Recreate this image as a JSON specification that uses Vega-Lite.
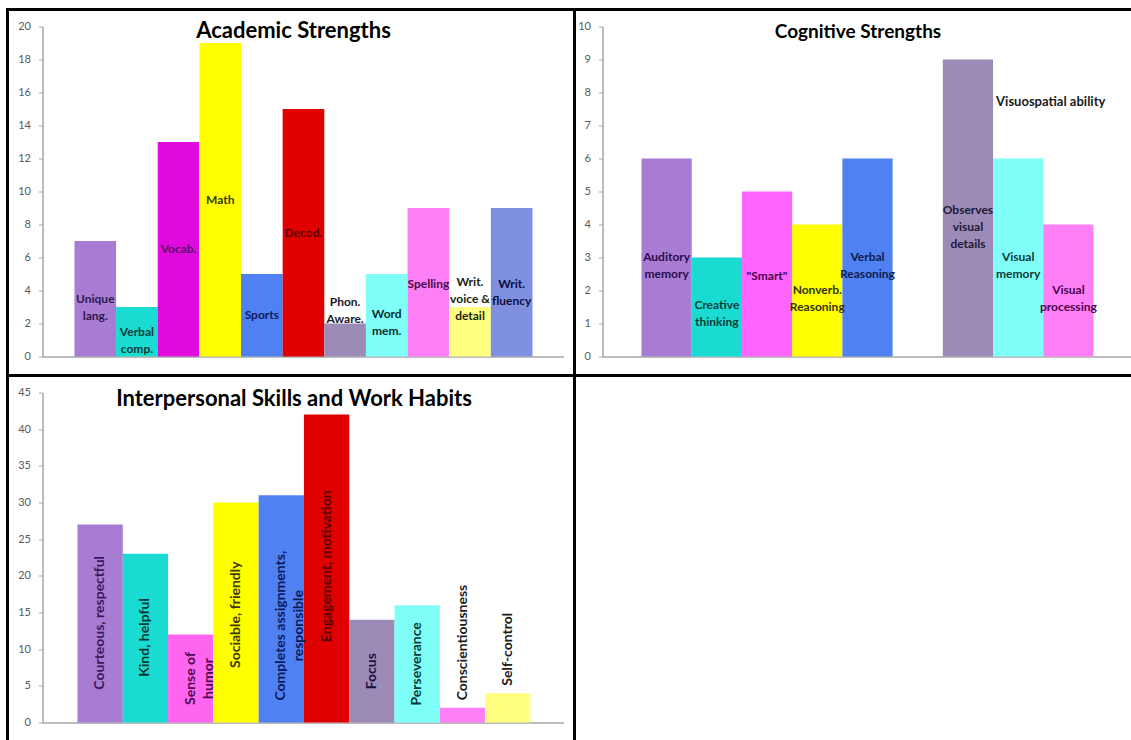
{
  "$schema": "https://vega.github.io/schema/vega-lite/v6.json",
  "background": "white",
  "padding": {"left": 5.5, "top": 7.5, "right": 0, "bottom": 0},
  "columns": 2,
  "spacing": 0,
  "bounds": "flush",
  "resolve": {"scale": {"color": "independent", "fill": "independent", "x": "independent", "y": "independent"}},
  "datasets": {
    "academic": [
      {"skill": "Unique lang.", "count": 7, "label": "Unique|lang.", "at": 3.5},
      {"skill": "Verbal comp.", "count": 3, "label": "Verbal|comp.", "at": 1.5},
      {"skill": "Vocab.", "count": 13, "label": "Vocab.", "at": 6.5},
      {"skill": "Math", "count": 19, "label": "Math", "at": 9.5},
      {"skill": "Sports", "count": 5, "label": "Sports", "at": 2.5},
      {"skill": "Decod.", "count": 15, "label": "Decod.", "at": 7.5},
      {"skill": "Phon. Aware.", "count": 2, "label": "Phon.|Aware.", "at": 3.3},
      {"skill": "Word mem.", "count": 5, "label": "Word|mem.", "at": 2.6},
      {"skill": "Spelling", "count": 9, "label": "Spelling", "at": 4.4},
      {"skill": "Writ. voice & detail", "count": 3, "label": "Writ.|voice &|detail", "at": 4.5},
      {"skill": "Writ. fluency", "count": 9, "label": "Writ.|fluency", "at": 4.4}
    ],
    "cognitive": [
      {"skill": "Auditory memory", "count": 6, "label": "Auditory|memory", "at": 3.0},
      {"skill": "Creative thinking", "count": 3, "label": "Creative|thinking", "at": 1.55},
      {"skill": "\"Smart\"", "count": 5, "label": "\"Smart\"", "at": 2.45},
      {"skill": "Nonverb. Reasoning", "count": 4, "label": "Nonverb.|Reasoning", "at": 2.0},
      {"skill": "Verbal Reasoning", "count": 6, "label": "Verbal|Reasoning", "at": 3.0},
      {"skill": "Observes visual details", "count": 9, "label": "Observes|visual|details", "at": 4.45},
      {"skill": "Visual memory", "count": 6, "label": "Visual|memory", "at": 3.0},
      {"skill": "Visual processing", "count": 4, "label": "Visual|processing", "at": 2.0}
    ],
    "interpersonal": [
      {"skill": "Courteous, respectful", "count": 27, "label": "Courteous, respectful", "at": 13.6},
      {"skill": "Kind, helpful", "count": 23, "label": "Kind, helpful", "at": 11.6},
      {"skill": "Sense of humor", "count": 12, "label": "Sense of|humor", "at": 6.0},
      {"skill": "Sociable, friendly", "count": 30, "label": "Sociable, friendly", "at": 14.7},
      {"skill": "Completes assignments, responsible", "count": 31, "label": "Completes assignments,|responsible", "at": 13.2},
      {"skill": "Engagement, motivation", "count": 42, "label": "Engagement, motivation", "at": 21.3},
      {"skill": "Focus", "count": 14, "label": "Focus", "at": 7.0},
      {"skill": "Perseverance", "count": 16, "label": "Perseverance", "at": 8.0},
      {"skill": "Conscientiousness", "count": 2, "label": "Conscientiousness", "at": 10.9},
      {"skill": "Self-control", "count": 4, "label": "Self-control", "at": 10.0}
    ]
  },
  "concat": [
    {
      "width": 567,
      "height": 366,
      "title": {"text": "Academic Strengths", "offset": -33, "dx": 2.5, "fontSize": 22},
      "data": {"name": "academic"},
      "encoding": {
        "x": {
          "field": "skill", "type": "nominal", "sort": null,
          "scale": {
            "domain": ["_pad", "Unique lang.", "Verbal comp.", "Vocab.", "Math", "Sports", "Decod.", "Phon. Aware.", "Word mem.", "Spelling", "Writ. voice & detail", "Writ. fluency"],
            "paddingInner": 0, "paddingOuter": 0.809, "align": 0.376
          },
          "axis": {"labels": false, "ticks": false, "title": null, "offset": -19, "domainDash": [0, 35, 521, 100]}
        }
      },
      "layer": [
        {
          "mark": {"type": "bar"},
          "encoding": {
            "y": {
              "field": "count", "type": "quantitative",
              "scale": {"domain": [-1.152, 21.03], "nice": false},
              "axis": {"values": [0, 2, 4, 6, 8, 10, 12, 14, 16, 18, 20], "offset": -35, "title": null, "domainDash": [0, 19, 330, 100]}
            },
            "y2": {"datum": 0},
            "color": {
              "field": "skill", "type": "nominal", "legend": null,
              "scale": {
                "domain": ["Unique lang.", "Verbal comp.", "Vocab.", "Math", "Sports", "Decod.", "Phon. Aware.", "Word mem.", "Spelling", "Writ. voice & detail", "Writ. fluency"],
                "range": ["#a77cd2", "#1adbd2", "#e00adc", "#ffff00", "#4f81f3", "#e00000", "#9b8bb6", "#80fff9", "#ff80f6", "#ffff80", "#8090e0"]
              }
            }
          }
        },
        {
          "mark": {"type": "text", "lineBreak": "|", "font": "Lato", "fontWeight": "bold", "fontSize": 12, "lineHeight": 17, "align": "center", "baseline": "middle"},
          "encoding": {
            "y": {
              "field": "at", "type": "quantitative",
              "scale": {"domain": [-1.152, 21.03], "nice": false},
              "axis": {"values": [0, 2, 4, 6, 8, 10, 12, 14, 16, 18, 20], "offset": -35, "title": null, "domainDash": [0, 19, 330, 100]}
            },
            "text": {"field": "label"},
            "fill": {
              "field": "skill", "type": "nominal", "legend": null,
              "scale": {
                "domain": ["Unique lang.", "Verbal comp.", "Vocab.", "Math", "Sports", "Decod.", "Phon. Aware.", "Word mem.", "Spelling", "Writ. voice & detail", "Writ. fluency"],
                "range": ["#2e1850", "#0a3c38", "#5c0a60", "#383800", "#0c1e5a", "#5a0000", "#1a1a2a", "#0a2e2e", "#4a0a4a", "#22220a", "#0c0c3c"]
              }
            }
          }
        }
      ]
    },
    {
      "width": 567,
      "height": 366,
      "title": {"text": "Cognitive Strengths", "offset": -32.5, "dx": 0, "fontSize": 19},
      "encoding": {
        "x": {
          "field": "skill", "type": "nominal", "sort": null,
          "scale": {
            "domain": ["_pad", "Auditory memory", "Creative thinking", "\"Smart\"", "Nonverb. Reasoning", "Verbal Reasoning", " ", "Observes visual details", "Visual memory", "Visual processing"],
            "paddingInner": 0, "paddingOuter": 0.645, "align": 0.259
          },
          "axis": {"labels": false, "ticks": false, "title": null, "offset": -19, "domainDash": [0, 28, 1000, 10]}
        }
      },
      "layer": [
        {
          "data": {"name": "cognitive"},
          "mark": {"type": "bar"},
          "encoding": {
            "y": {
              "field": "count", "type": "quantitative",
              "scale": {"domain": [-0.576, 10.515], "nice": false},
              "axis": {"values": [0, 1, 2, 3, 4, 5, 6, 7, 8, 9, 10], "offset": -28, "title": null, "domainDash": [0, 19, 330, 100]}
            },
            "y2": {"datum": 0},
            "color": {
              "field": "skill", "type": "nominal", "legend": null,
              "scale": {
                "domain": ["Auditory memory", "Creative thinking", "\"Smart\"", "Nonverb. Reasoning", "Verbal Reasoning", "Observes visual details", "Visual memory", "Visual processing"],
                "range": ["#a77cd2", "#1adbd2", "#ff66ff", "#ffff00", "#4f81f3", "#9b8bb6", "#80fff9", "#ff80f6"]
              }
            }
          }
        },
        {
          "data": {"name": "cognitive"},
          "mark": {"type": "text", "lineBreak": "|", "font": "Lato", "fontWeight": "bold", "fontSize": 12, "lineHeight": 17, "align": "center", "baseline": "middle"},
          "encoding": {
            "y": {
              "field": "at", "type": "quantitative",
              "scale": {"domain": [-0.576, 10.515], "nice": false},
              "axis": {"values": [0, 1, 2, 3, 4, 5, 6, 7, 8, 9, 10], "offset": -28, "title": null, "domainDash": [0, 19, 330, 100]}
            },
            "text": {"field": "label"},
            "fill": {
              "field": "skill", "type": "nominal", "legend": null,
              "scale": {
                "domain": ["Auditory memory", "Creative thinking", "\"Smart\"", "Nonverb. Reasoning", "Verbal Reasoning", "Observes visual details", "Visual memory", "Visual processing"],
                "range": ["#2a0c4c", "#083c38", "#4c004c", "#333300", "#0c1c4c", "#1a1a3a", "#0a3a3a", "#4c004c"]
              }
            }
          }
        },
        {
          "data": {"values": [{"skill": "Visual memory", "at": 7.7, "note": "Visuospatial ability"}]},
          "mark": {"type": "text", "font": "Lato", "fontWeight": "bold", "fontSize": 13, "align": "left", "baseline": "middle", "dx": 3, "color": "#1a1a1a"},
          "encoding": {
            "x": {"field": "skill", "type": "nominal", "bandPosition": 0},
            "y": {
              "field": "at", "type": "quantitative",
              "scale": {"domain": [-0.576, 10.515], "nice": false},
              "axis": {"values": [0, 1, 2, 3, 4, 5, 6, 7, 8, 9, 10], "offset": -28, "title": null, "domainDash": [0, 19, 330, 100]}
            },
            "text": {"field": "note"}
          }
        }
      ]
    },
    {
      "width": 567,
      "height": 366,
      "title": {"text": "Interpersonal Skills and Work Habits", "offset": -35.5, "dx": 3, "fontSize": 22},
      "data": {"name": "interpersonal"},
      "encoding": {
        "x": {
          "field": "skill", "type": "nominal", "sort": null,
          "scale": {
            "domain": ["_pad", "Courteous, respectful", "Kind, helpful", "Sense of humor", "Sociable, friendly", "Completes assignments, responsible", "Engagement, motivation", "Focus", "Perseverance", "Conscientiousness", "Self-control"],
            "paddingInner": 0, "paddingOuter": 0.7585, "align": 0.359
          },
          "axis": {"labels": false, "ticks": false, "title": null, "offset": -19, "domainDash": [0, 35, 521, 100]}
        }
      },
      "layer": [
        {
          "mark": {"type": "bar"},
          "encoding": {
            "y": {
              "field": "count", "type": "quantitative",
              "scale": {"domain": [-2.591, 47.318], "nice": false},
              "axis": {"values": [0, 5, 10, 15, 20, 25, 30, 35, 40, 45], "offset": -35, "title": null, "domainDash": [0, 19, 330, 100]}
            },
            "y2": {"datum": 0},
            "color": {
              "field": "skill", "type": "nominal", "legend": null,
              "scale": {
                "domain": ["Courteous, respectful", "Kind, helpful", "Sense of humor", "Sociable, friendly", "Completes assignments, responsible", "Engagement, motivation", "Focus", "Perseverance", "Conscientiousness", "Self-control"],
                "range": ["#a77cd2", "#1adbd2", "#ff66f0", "#ffff00", "#4f81f3", "#e00000", "#9b8bb6", "#80fff9", "#ff80f6", "#ffff80"]
              }
            }
          }
        },
        {
          "mark": {"type": "text", "lineBreak": "|", "font": "Lato", "fontWeight": "bold", "fontSize": 14, "lineHeight": 18, "align": "center", "baseline": "middle", "angle": 270},
          "encoding": {
            "y": {
              "field": "at", "type": "quantitative",
              "scale": {"domain": [-2.591, 47.318], "nice": false},
              "axis": {"values": [0, 5, 10, 15, 20, 25, 30, 35, 40, 45], "offset": -35, "title": null, "domainDash": [0, 19, 330, 100]}
            },
            "text": {"field": "label"},
            "fill": {
              "field": "skill", "type": "nominal", "legend": null,
              "scale": {
                "domain": ["Courteous, respectful", "Kind, helpful", "Sense of humor", "Sociable, friendly", "Completes assignments, responsible", "Engagement, motivation", "Focus", "Perseverance", "Conscientiousness", "Self-control"],
                "range": ["#3a1a5a", "#083a33", "#4a0a4a", "#3a3a00", "#0a1a5a", "#5a0000", "#1a1040", "#083a3a", "#202020", "#202020"]
              }
            }
          }
        }
      ]
    }
  ],
  "config": {
    "view": {"stroke": "black", "strokeWidth": 3},
    "axis": {
      "domainColor": "#a6a6a6",
      "domainWidth": 1.5,
      "tickColor": "#a6a6a6",
      "tickSize": 4,
      "labelColor": "#595959",
      "labelFont": "Lato",
      "labelFontSize": 11,
      "labelPadding": 8,
      "grid": false
    },
    "title": {"font": "Lato", "fontSize": 20, "fontWeight": "bold", "color": "black", "baseline": "alphabetic", "anchor": "middle"}
  }
}
